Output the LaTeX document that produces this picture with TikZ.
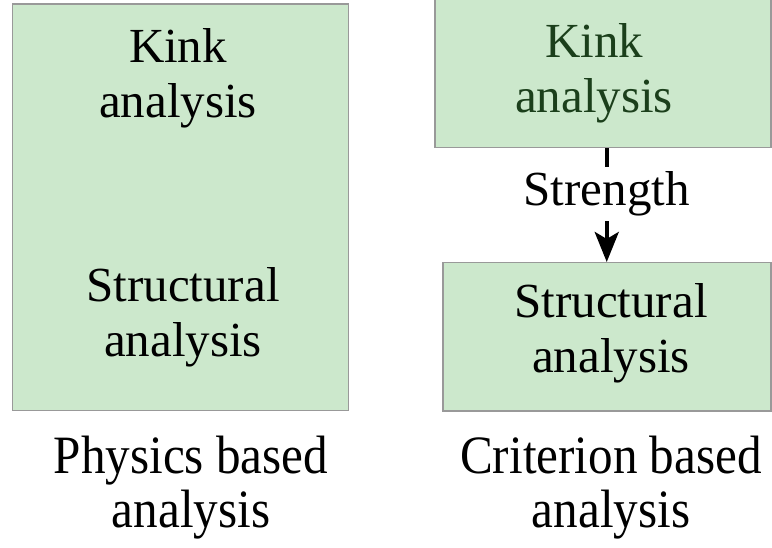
\documentclass[tikz,border=0pt]{standalone}
\usepackage{fontspec}
\setmainfont{Liberation Serif}
\usetikzlibrary{arrows.meta}
\definecolor{boxgreen}{HTML}{CCE8CC}
\definecolor{boxedge}{HTML}{999999}
\definecolor{kinkgreen}{HTML}{1B3F1B}
\newcommand{\squeeze}[1]{\scalebox{0.91}[1]{#1}}
\tikzset{
  box/.style={draw=boxedge, fill=boxgreen, line width=1.5pt, inner sep=0, anchor=north west},
  lbl/.style={font=\fontsize{49}{55}\selectfont, align=center, anchor=base, inner sep=0},
  caption/.style={font=\fontsize{54}{54}\selectfont, align=center, anchor=base, inner sep=0},
  flow/.style={line width=4pt, -{Stealth[length=30pt,width=24pt,inset=7pt]}},
}
\begin{document}
\begin{tikzpicture}[x=1pt,y=-1pt]
      \useasboundingbox (0,0) rectangle (772,548);
      % physics based
      \node[box, minimum width=336pt, minimum height=406pt] (physbox) at (11.5,3.5) {};
      \node[lbl] (physkink) at (178,118) {Kink\\analysis};
      \node[lbl] (physstruct) at (183,357) {Structural\\analysis};
      \node[caption] (physcap) at (191,527) {\squeeze{Physics based}\\\squeeze{analysis}};
      % criterion based
      \node[box, minimum width=336pt, minimum height=152pt] (kinkbox) at (434,-5) {};
      \node[box, minimum width=328pt, minimum height=148pt] (structbox) at (442,262) {};
      \node[lbl, text=kinkgreen] (critkink) at (594,113) {Kink\\analysis};
      \node[lbl] (critstruct) at (611,373) {Structural\\analysis};
      \draw[flow] (kinkbox.south -| structbox.north) -- node[pos=0.4, fill=white, inner sep=5pt, font=\fontsize{49}{55}\selectfont] (strength) {Strength} (structbox.north);
      \node[caption] (critcap) at (611,527) {\squeeze{Criterion based}\\\squeeze{analysis}};
\end{tikzpicture}
\end{document}
